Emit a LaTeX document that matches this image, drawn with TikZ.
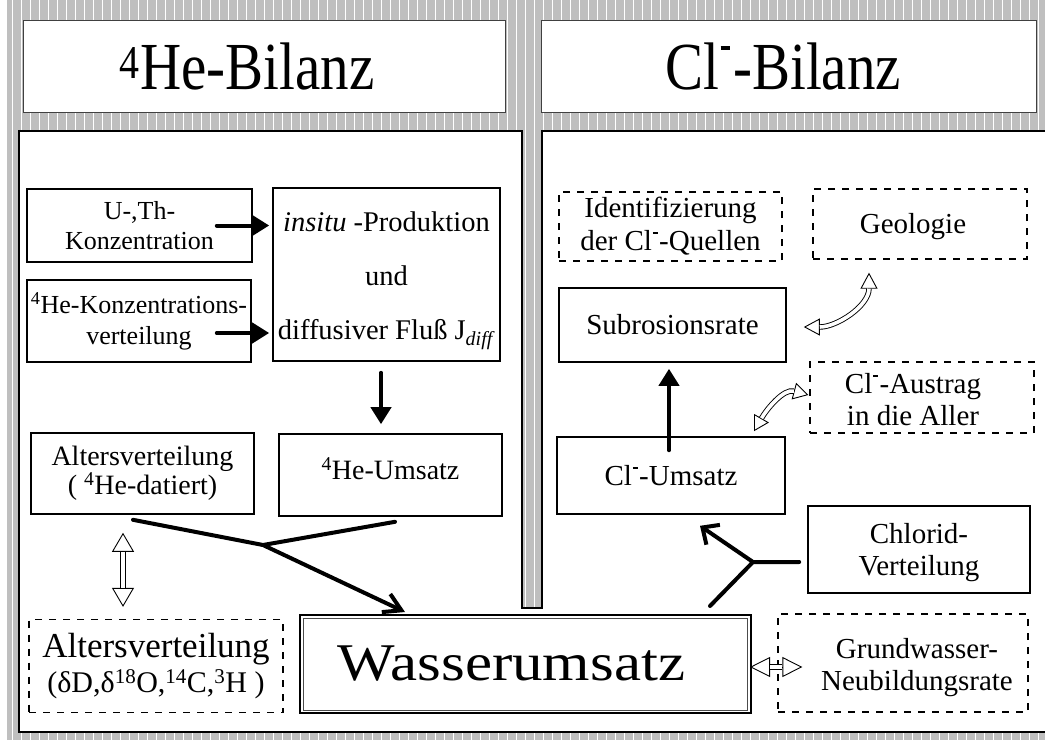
\documentclass[tikz,border=0pt]{standalone}
\usepackage{fontspec}
\setmainfont{Liberation Serif}
\usetikzlibrary{arrows.meta,calc}
\newcommand\fsz[2]{\fontsize{#1}{#2}\selectfont}
% raised charge sign of the chloride ion
\newcommand\ionminus{\kern0.03em\rule[0.58em]{0.17em}{0.06em}\kern0.05em}
% hollow double-shafted arrow: head length, head width, shaft width, core width, path
\newcommand\dblconn[5]{%
  \draw[line width=0.9pt, arrows={Triangle[open,length=#1,width=#2]-Triangle[open,length=#1,width=#2]}] #5;
  \draw[line width=#3, shorten <=#1, shorten >=#1] #5;
  \draw[line width=#4, white, shorten <=#1, shorten >=#1] #5;
}
\tikzset{
  box/.style={draw, line width=1.6pt, fill=white, inner sep=0pt, align=center, font=\fsz{29}{32}},
  dbox/.style={box, dash pattern=on 7pt off 7pt, line width=1.3pt},
  titlebox/.style={draw=black!75, line width=1pt, fill=white, inner sep=0pt,
    minimum width=482pt, minimum height=92pt, font=\fsz{57}{60}},
  farr/.style={line width=4pt, line cap=round, -{Triangle[length=17pt,width=20pt]}},
  thk/.style={line width=4pt, line cap=round, line join=round},
  barr/.style 2 args={thk, -{Straight Barb[length=#1,width=#2]}},
}
\begin{document}
\begin{tikzpicture}[x=1pt,y=1pt]
\useasboundingbox (0,0) rectangle (1045,-740);
\clip (0,0) rectangle (1045,-740);

% hatched background
\fill[gray!50] (7,0) rectangle (1045,-740);
\foreach \x in {12.7,21.7,...,1045} \draw[white, line width=0.9pt] (\x,0) -- (\x,-740);

% titles
\node[titlebox] (tl) at (264,-66) {\scalebox{1}[1.18]{\textsuperscript{4}He-Bilanz}\hspace*{34pt}};
\node[titlebox, minimum width=495pt] (tr) at (788.5,-66) {\scalebox{1}[1.18]{Cl\ionminus-Bilanz}\hspace*{11pt}};

% white working area with the separating notch
\filldraw[fill=white, draw=black, line width=2.5pt]
  (19,-131) -- (522,-131) -- (522,-608) -- (542,-608) -- (542,-131)
  -- (1052,-131) -- (1052,-732) -- (19,-732) -- cycle;

% left side
\node[box, minimum width=225pt, minimum height=73pt, font=\fsz{26}{30}] (uth) at (139.5,-225.5) {U-,Th-\\Konzentration};
\node[box, minimum width=224pt, minimum height=82pt, font=\fsz{26}{31}] (hek) at (139,-321) {\textsuperscript{4}He-Konzentrations-\\verteilung};
\node[box, minimum width=227pt, minimum height=173pt, font=\fsz{28.5}{54}] (ins) at (386.5,-274.5) {\rule{0pt}{32pt}\textit{insitu} -Produktion\\und\\diffusiver Fluß J\textsubscript{\textit{diff}}};
\node[box, minimum width=223pt, minimum height=81pt, font=\fsz{28}{29}] (alt) at (142.5,-473.5) {Altersverteilung\\( \textsuperscript{4}He-datiert)};
\node[box, minimum width=223pt, minimum height=82pt, font=\fsz{28}{30}, text depth=12pt] (heu) at (390.5,-475) {\textsuperscript{4}He-Umsatz};
\node[box, line width=2pt, minimum width=451pt, minimum height=98pt, font=\fsz{53}{56}] (was) at (525.5,-664) {\scalebox{1.15}[1]{Wasserumsatz}\hspace*{28pt}};
\draw[line width=0.8pt, black!70] ([shift={(4pt,4pt)}]was.south west) rectangle ([shift={(-4.5pt,-4pt)}]was.north east);
\node[dbox, minimum width=254pt, minimum height=93pt, font=\fsz{35}{35}] (alt2) at (156,-666) {Altersverteilung\\{\fsz{30}{35}(δD,δ\textsuperscript{18}O,\textsuperscript{14}C,\textsuperscript{3}H )}};

% right side
\node[dbox, minimum width=223pt, minimum height=69pt, font=\fsz{29}{33}] (idq) at (670.5,-226.5) {Identifizierung\\der Cl\ionminus-Quellen};
\node[dbox, minimum width=214pt, minimum height=70pt] (geo) at (920,-224) {\rule{0pt}{26pt}Geologie\hspace*{14pt}};
\node[box, minimum width=227pt, minimum height=74pt] (sub) at (672.5,-325) {Subrosionsrate};
\node[dbox, minimum width=224pt, minimum height=71pt] (aus) at (922,-397.5) {\rule{0pt}{24pt}Cl\ionminus-Austrag\hspace*{18pt}\\in die Aller\hspace*{18pt}};
\node[box, minimum width=228pt, minimum height=77pt] (clu) at (671,-475.5) {Cl\ionminus-Umsatz};
\node[box, minimum width=222pt, minimum height=87pt] (chl) at (919,-549.5) {\rule{0pt}{26pt}Chlorid-\\Verteilung};
\node[dbox, minimum width=250pt, minimum height=98pt] (gwn) at (903,-663) {\rule{0pt}{30pt}\hspace*{28pt}Grundwasser-\\\hspace*{28pt}Neubildungsrate};

% connectors, left
\draw[farr, shorten >=3pt] ([xshift=-36pt]uth.east) -- (ins.west |- uth.east);
\draw[farr, shorten >=3pt] ([xshift=-35pt,yshift=-12pt]hek.east) coordinate (h1) -- (ins.west |- h1);
\draw[farr] ([xshift=-5.5pt,yshift=-11pt]ins.south) -- ([xshift=-9.5pt,yshift=9pt]heu.north);
\coordinate (j1) at (263,-545);
\draw[thk] ([xshift=-9.5pt,yshift=-5pt]alt.south) -- (j1) -- ([xshift=4.5pt,yshift=-5pt]heu.south);
\draw[barr={17pt}{20pt}] (j1) -- ([xshift=-120.5pt,yshift=2pt]was.north);
\dblconn{19pt}{22pt}{6.6pt}{4.6pt}{([xshift=-19.5pt,yshift=-18pt]alt.south) -- ([xshift=-33pt,yshift=12pt]alt2.north)}
\dblconn{20pt}{20pt}{6.6pt}{4.6pt}{([xshift=-2pt,yshift=-3pt]was.east) -- ([xshift=25pt,yshift=-4pt]gwn.west)}

% connectors, right
\draw[farr] ([xshift=-2pt,yshift=-14pt]clu.north) -- ([xshift=-3.5pt,yshift=-6pt]sub.south);
\coordinate (j2) at (753,-562);
\draw[thk] ([xshift=-8pt,yshift=-12.5pt]chl.west) -- (j2) -- ([xshift=184.5pt,yshift=8pt]was.north);
\draw[barr={13pt}{24pt}] (j2) -- ([xshift=29pt,yshift=-11pt]clu.south);
\dblconn{16pt}{17pt}{5.4pt}{3.6pt}{([xshift=17pt,yshift=-2pt]sub.east) to[out=0,in=-90] ([xshift=-51pt,yshift=-13pt]geo.south)}
\dblconn{15pt}{17pt}{5.4pt}{3.6pt}{([xshift=83pt,yshift=5pt]clu.north) to[out=60,in=165] ([xshift=-1pt,yshift=2.5pt]aus.west)}
\end{tikzpicture}
\end{document}
